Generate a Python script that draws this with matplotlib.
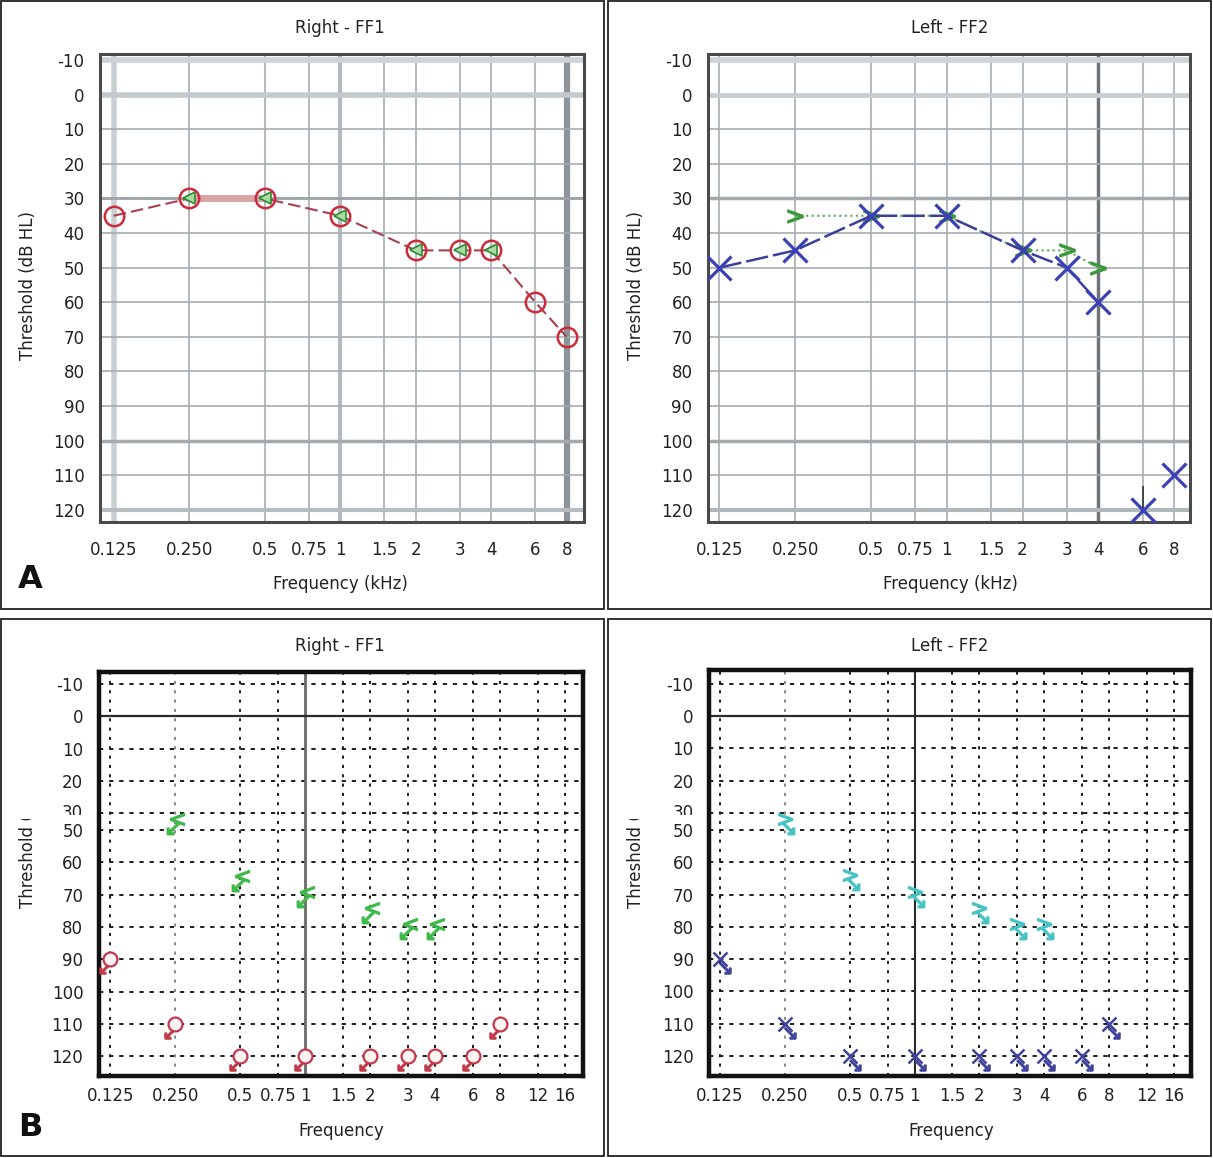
import matplotlib
matplotlib.use('Agg')
import matplotlib.pyplot as plt
import numpy as np
from matplotlib.patches import Rectangle
from matplotlib.transforms import offset_copy, Bbox, TransformedBbox

W, H = 1213, 1158

# axis ticks
freq_a = [0.125, 0.25, 0.5, 0.75, 1, 1.5, 2, 3, 4, 6, 8]
freq_a_labels = ['0.125', '0.250', '0.5', '0.75', '1', '1.5', '2', '3', '4', '6', '8']
freq_b = freq_a + [12, 16]
freq_b_labels = freq_a_labels + ['12', '16']
db_a = [-10, 0, 10, 20, 30, 40, 50, 60, 70, 80, 90, 100, 110, 120]
db_b = [-10, 0, 10, 20, 30, 50, 60, 70, 80, 90, 100, 110, 120]

# A - right ear (FF1)
r_air_f = [0.125, 0.25, 0.5, 1, 2, 3, 4, 6, 8]
r_air_db = [35, 30, 30, 35, 45, 45, 45, 60, 70]
r_bone_f = [0.25, 0.5, 1, 2, 3, 4]
r_bone_db = [30, 30, 35, 45, 45, 45]

# A - left ear (FF2)
l_air_f = [0.125, 0.25, 0.5, 1, 2, 3, 4]
l_air_db = [50, 45, 35, 35, 45, 50, 60]
l_nr_f = [6, 8]
l_nr_db = [120, 110]
l_bone_f = [0.25, 0.5, 1, 2, 3, 4]
l_bone_db = [35, 35, 35, 45, 45, 50]

# B - no response symbols
rb_air_f = [0.125, 0.25, 0.5, 1, 2, 3, 4, 6, 8]
rb_air_db = [90, 110, 120, 120, 120, 120, 120, 120, 110]
rb_bone_f = [0.25, 0.5, 1, 2, 3, 4]
rb_bone_db = [40, 65, 70, 75, 80, 80]
lb_air_f = [0.125, 0.25, 0.5, 1, 2, 3, 4, 6, 8]
lb_air_db = [90, 110, 120, 120, 120, 120, 120, 120, 110]
lb_bone_f = [0.25, 0.5, 1, 2, 3, 4]
lb_bone_db = [40, 65, 70, 75, 80, 80]

plt.rcParams['font.family'] = ['DejaVu Sans']
fig = plt.figure(figsize=(W / 100, H / 100), dpi=100)


def rect(x0, y0, x1, y1):
    return [x0 / W, 1 - y1 / H, (x1 - x0) / W, (y1 - y0) / H]


def ftext(x, y, s, **kw):
    return fig.text(x / W, 1 - y / H, s, **kw)


# panel borders
for (x0, y0, x1, y1) in [(1, 1, 604, 609), (608, 1, 1211, 609),
                         (1, 619, 604, 1156), (608, 619, 1211, 1156)]:
    fig.patches.append(Rectangle((x0 / W, 1 - y1 / H), (x1 - x0) / W, (y1 - y0) / H,
                                 transform=fig.transFigure, fill=False,
                                 edgecolor='#222222', lw=1.3))

# compressed band between 30 and 50 dB in panel B
K = 17 / 64.6
XP = [-1000, 30, 50, 1000]
FP = [-1000, 30, 30 + 20 * K, 30 + 20 * K + 950]


def fwd(d):
    return np.interp(d, XP, FP)


def inv(p):
    return np.interp(p, FP, XP)


def setup_a(ax, xlim, thick_v, thick_h):
    ax.set_xscale('log', base=2)
    ax.set_xlim(*xlim)
    ax.set_ylim(123.5, -11.9)
    for f in freq_a:
        lw, c = thick_v.get(f, (1.2, '#a5adb2'))
        ax.axvline(f, color=c, lw=lw, zorder=0.5)
    for d in db_a:
        lw, c = thick_h.get(d, (1.2, '#a5adb2'))
        ax.axhline(d, color=c, lw=lw, zorder=0.5)
    ax.set_xticks(freq_a)
    ax.set_xticklabels(freq_a_labels)
    ax.set_yticks(db_a)
    ax.set_yticklabels([str(d) for d in db_a])
    ax.tick_params(axis='x', length=0, pad=14, labelsize=12, labelcolor='#222222')
    ax.tick_params(axis='y', length=0, pad=11, labelsize=12, labelcolor='#222222')
    ax.minorticks_off()
    for s in ax.spines.values():
        s.set_color('#4a4a4a')
        s.set_linewidth(2.2)


def setup_b(ax, xlim, ylim, one_color, one_lw):
    ax.set_xscale('log', base=2)
    ax.set_yscale('function', functions=(fwd, inv))
    ax.set_xlim(*xlim)
    ax.set_ylim(*ylim)
    for f in freq_b:
        if f == 1:
            ax.axvline(f, color=one_color, lw=one_lw, zorder=0.6)
        else:
            c = '#8a8a8a' if f == 0.25 else '#1e1e1e'
            ax.axvline(f, color=c, lw=1.4, ls=(0, (1.6, 3.2)), zorder=0.5)
    for d in db_b:
        if d == 0:
            ax.axhline(d, color='#2a2a2a', lw=1.6, zorder=0.6)
        else:
            ax.axhline(d, color='#1e1e1e', lw=1.4, ls=(0, (2.2, 3.0)), zorder=0.5)
    ax.set_xticks(freq_b)
    ax.set_xticklabels(freq_b_labels)
    ax.set_yticks(db_b)
    ax.set_yticklabels(['' if d == 30 else str(d) for d in db_b])
    ax.tick_params(axis='x', length=0, pad=8, labelsize=12, labelcolor='#222222')
    ax.tick_params(axis='y', length=0, pad=11, labelsize=12, labelcolor='#222222')
    ax.minorticks_off()
    for s in ax.spines.values():
        s.set_color('#111111')
        s.set_linewidth(3.2)
    # "30" label cut by the compressed band
    t = ax.text(-15.3 / (ax.get_position().width * W), 30, '30', ha='right', va='center',
                fontsize=12, color='#222222',
                transform=ax.get_yaxis_transform())
    t.set_clip_box(TransformedBbox(Bbox.from_extents(0, 1 - 815 / H, 1, 1), fig.transFigure))
    t.set_clip_on(True)


# ---------------- A left ----------------
ax1 = fig.add_axes(rect(100, 53.5, 584, 522))
setup_a(ax1, (0.1103, 9.38),
        {0.125: (4, '#c9d0d4'), 1: (3, '#b3bbc0'), 8: (4.5, '#8d9499')},
        {-10: (4, '#cdd3d7'), 0: (4, '#c3cacd'), 30: (2, '#9aa2a7'),
         100: (2.5, '#a3abb0'), 120: (3, '#b6bdc1')})
ax1.plot(r_air_f, r_air_db, color='#a8404f', lw=1.5, ls=(0, (6, 2.5)), zorder=2)
ax1.plot(r_air_f[1:3], r_air_db[1:3], color='#d9a4a6', lw=5, zorder=2)
ax1.plot(r_bone_f, r_bone_db, ls='none', marker='<', ms=8, mfc='#a8dca3',
         mec='#2f8a35', mew=1.2, zorder=3)
ax1.plot(r_air_f, r_air_db, ls='none', marker='o', ms=14, mfc='none',
         mec='#cc2b3b', mew=1.8, zorder=4)

# ---------------- A right ----------------
ax2 = fig.add_axes(rect(707.7, 53.5, 1190, 522))
setup_a(ax2, (0.1124, 9.25),
        {4: (2.5, '#6f7478')},
        {-10: (4, '#cdd3d7'), 0: (3.5, '#c8cfd2'), 30: (2.5, '#a3abb0'),
         100: (2.5, '#a3abb0'), 120: (3, '#b0b7bb')})
ax2.plot(l_bone_f, l_bone_db, color='#5aa85a', lw=1.5, ls=':', zorder=2)
ax2.plot(l_bone_f, l_bone_db, ls='none', marker='$>$', ms=11, color='#3c9a3c', zorder=2.5)
ax2.plot(l_air_f, l_air_db, color='#3d3f9c', lw=1.8, ls=(0, (9, 2)), zorder=3)
ax2.plot(l_air_f, l_air_db, ls='none', marker='x', ms=17, mew=2.3, color='#3b40b5', zorder=4)
ax2.vlines(l_nr_f[:1], 113, l_nr_db[:1], color='#333333', lw=1.2, zorder=3)
ax2.plot(l_nr_f, l_nr_db, ls='none', marker='x', ms=17, mew=2.3, color='#3b40b5',
         zorder=4, clip_on=False)

# ---------------- B left ----------------
ax3 = fig.add_axes(rect(98.6, 672, 582.5, 1075.5))
setup_b(ax3, (0.1105, 19.3), (126, -13.7), '#6a6a6a', 2.0)
ax3.plot(rb_bone_f, rb_bone_db, ls='none', marker='$<$', ms=10, color='#3fba4a',
         transform=offset_copy(ax3.transData, fig=fig, x=2, y=3, units='dots'), zorder=3)
ax3.plot(rb_bone_f, rb_bone_db, ls='none', marker=r'$\swarrow$', ms=9, color='#3fba4a',
         transform=offset_copy(ax3.transData, fig=fig, x=-2, y=-6, units='dots'), zorder=3)
ax3.plot(rb_air_f, rb_air_db, ls='none', marker=r'$\swarrow$', ms=8, color='#c23a4a',
         transform=offset_copy(ax3.transData, fig=fig, x=-5, y=-9, units='dots'), zorder=3)
ax3.plot(rb_air_f, rb_air_db, ls='none', marker='o', ms=10, mfc='#fdf3f3',
         mec='#c23a4a', mew=1.6, zorder=4)

# ---------------- B right ----------------
ax4 = fig.add_axes(rect(709, 670, 1190.5, 1076))
setup_b(ax4, (0.1111, 19.1), (126.2, -14.3), '#2a2a2a', 1.5)
ax4.plot(lb_bone_f, lb_bone_db, ls='none', marker='$>$', ms=10, color='#46c3c3',
         transform=offset_copy(ax4.transData, fig=fig, x=0, y=3, units='dots'), zorder=3)
ax4.plot(lb_bone_f, lb_bone_db, ls='none', marker=r'$\searrow$', ms=9, color='#46c3c3',
         transform=offset_copy(ax4.transData, fig=fig, x=3, y=-6, units='dots'), zorder=3)
ax4.plot(lb_air_f, lb_air_db, ls='none', marker=r'$\searrow$', ms=8, color='#40449a',
         transform=offset_copy(ax4.transData, fig=fig, x=5, y=-9, units='dots'), zorder=3)
ax4.plot(lb_air_f, lb_air_db, ls='none', marker='x', ms=10, mew=1.8, color='#40449a', zorder=4)

# titles and labels
for x in (340, 950):
    c = 'Right - FF1' if x == 340 else 'Left - FF2'
    ftext(x, 28, c, ha='center', va='center', fontsize=12, color='#222222')
    ftext(x, 646, c, ha='center', va='center', fontsize=12, color='#222222')
    ftext(x, 584, 'Frequency (kHz)', ha='center', va='center', fontsize=12, color='#222222')
    ftext(x + 1, 1131, 'Frequency', ha='center', va='center', fontsize=12, color='#222222')

for x in (28, 636):
    ftext(x, 285, 'Threshold (dB HL)', ha='center', va='center', rotation=90,
          fontsize=12, color='#222222')
    t = ftext(x, 908, 'Threshold (dB HL)', ha='center', va='bottom', rotation=90,
              fontsize=12, color='#222222')
    t.set_clip_box(TransformedBbox(Bbox.from_extents(0, 0, 1, 1 - 819 / H), fig.transFigure))
    t.set_clip_on(True)

ftext(30, 580, 'A', ha='center', va='center', fontsize=23, fontweight='bold', color='#111111')
ftext(30, 1128, 'B', ha='center', va='center', fontsize=23, fontweight='bold', color='#111111')

fig.savefig('out.png', dpi=100, facecolor='white')
